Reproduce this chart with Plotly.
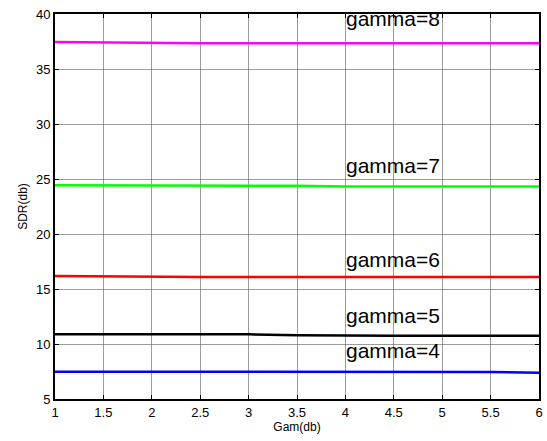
import plotly.graph_objects as go

# Gam(db) sample points
gam_db = [1, 1.5, 2, 2.5, 3, 3.5, 4, 4.5, 5, 5.5, 6]

# SDR(db) curves, one per gamma value
sdr_gamma8 = [37.45, 37.40, 37.35, 37.35, 37.35, 37.35, 37.35, 37.35, 37.35, 37.35, 37.35]
sdr_gamma7 = [24.43, 24.43, 24.43, 24.43, 24.43, 24.38, 24.32, 24.32, 24.32, 24.32, 24.32]
sdr_gamma6 = [16.18, 16.14, 16.10, 16.10, 16.10, 16.10, 16.10, 16.10, 16.10, 16.10, 16.10]
sdr_gamma5 = [10.88, 10.88, 10.88, 10.88, 10.88, 10.80, 10.75, 10.75, 10.75, 10.75, 10.75]
sdr_gamma4 = [7.48, 7.48, 7.48, 7.48, 7.48, 7.48, 7.48, 7.48, 7.48, 7.46, 7.39]

series = [
    (sdr_gamma8, "#ff00ff"),
    (sdr_gamma7, "#00ff00"),
    (sdr_gamma6, "#ff0000"),
    (sdr_gamma5, "#000000"),
    (sdr_gamma4, "#0000ff"),
]

# curve labels and where they sit
label_texts = ["gamma=8", "gamma=7", "gamma=6", "gamma=5", "gamma=4"]
label_x = [4, 4, 4, 4, 4]
label_y = [39.6, 26.2, 17.7, 12.6, 9.4]

x_ticks = [1, 1.5, 2, 2.5, 3, 3.5, 4, 4.5, 5, 5.5, 6]
x_tick_text = ["1", "1.5", "2", "2.5", "3", "3.5", "4", "4.5", "5", "5.5", "6"]
y_ticks = [5, 10, 15, 20, 25, 30, 35, 40]

fig = go.Figure()
for values, color in series:
    fig.add_trace(go.Scatter(x=gam_db, y=values, mode="lines",
                             line=dict(color=color, width=2.5), showlegend=False))

for t, xv, yv in zip(label_texts, label_x, label_y):
    fig.add_annotation(x=xv, y=yv, text=t, showarrow=False, xanchor="left",
                       yanchor="middle", xshift=-1,
                       font=dict(family="Liberation Sans, Arial", size=21, color="black"))

axis_common = dict(
    showline=True, linecolor="black", linewidth=1.8, mirror="ticks",
    ticks="inside", ticklen=4, tickcolor="black",
    showgrid=True, gridcolor="rgba(90,90,90,0.6)", gridwidth=1,
    zeroline=False,
    tickfont=dict(family="Liberation Sans, Arial", size=13, color="black"),
)

fig.update_xaxes(range=[1, 6], tickvals=x_ticks, ticktext=x_tick_text,
                 title=dict(text="Gam(db)", standoff=4,
                            font=dict(family="Liberation Sans, Arial", size=12, color="black")),
                 **axis_common)
fig.update_yaxes(range=[5, 40], tickvals=y_ticks,
                 title=dict(text="SDR(db)", standoff=6,
                            font=dict(family="Liberation Sans, Arial", size=12, color="black")),
                 **axis_common)

fig.update_layout(
    width=547, height=441,
    margin=dict(l=55, r=4, t=14, b=42),
    paper_bgcolor="white", plot_bgcolor="white",
)

fig.write_html("out.html")
